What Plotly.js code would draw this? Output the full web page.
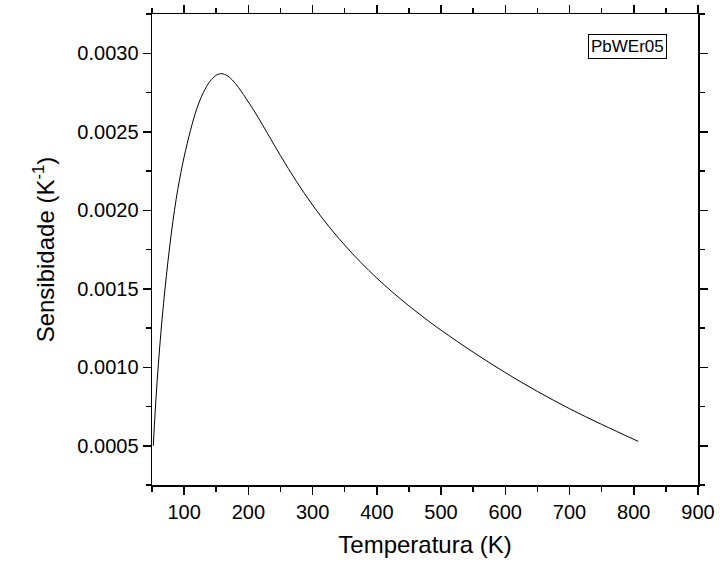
<!DOCTYPE html>
<html>
<head>
<meta charset="utf-8">
<script src="https://cdn.plot.ly/plotly-3.0.1.min.js"></script>
<style>html,body{margin:0;padding:0;background:#fff;}#chart{width:720px;height:569px;}</style>
</head>
<body>
<div id="chart"></div>
<script>
const temperature = [52, 55, 58, 62, 66, 70, 75, 80, 85, 90, 95, 100, 110, 120, 130, 140, 150, 157, 165, 175, 185, 200, 215, 230, 250, 275, 300, 325, 350, 375, 400, 425, 450, 475, 500, 550, 600, 650, 700, 750, 807];
const sensitivity = [0.00050, 0.00072, 0.00091, 0.00113, 0.00132, 0.00149, 0.00168, 0.00185, 0.00200, 0.00213, 0.00224, 0.00234, 0.00251, 0.00265, 0.00275, 0.00282, 0.00286, 0.00287, 0.002862, 0.00283, 0.00278, 0.00269, 0.002593, 0.002488, 0.002348, 0.002183, 0.002033, 0.001898, 0.001778, 0.001668, 0.001568, 0.001476, 0.001391, 0.001311, 0.001236, 0.001096, 0.000966, 0.000846, 0.000736, 0.000636, 0.000528];
const seriesName = 'PbWEr05';
const xTitle = 'Temperatura (K)';
const yTitle = 'Sensibidade (K<sup>-1</sup>)';

const font = 'Liberation Sans, Arial, sans-serif';
const trace = {
  x: temperature, y: sensitivity, mode: 'lines', type: 'scatter',
  line: {color: '#000', width: 1, shape: 'spline', smoothing: 1},
  showlegend: false
};
const axisCommon = {
  showline: true, linecolor: '#000', linewidth: 1.5, mirror: 'ticks',
  ticks: 'outside', ticklen: 8, tickwidth: 1.5, tickcolor: '#000',
  showgrid: false, zeroline: false,
  tickfont: {family: font, size: 20, color: '#000'}
};
const layout = {
  width: 720, height: 569,
  margin: {l: 152, r: 22, t: 14, b: 84},
  paper_bgcolor: '#fff', plot_bgcolor: '#fff',
  xaxis: Object.assign({}, axisCommon, {
    range: [50, 900], tick0: 0, dtick: 100,
    minor: {dtick: 50, ticks: 'outside', ticklen: 5, tickwidth: 1.5, tickcolor: '#000', showgrid: false},
    title: {text: xTitle, font: {family: font, size: 24, color: '#000'}, standoff: 14}
  }),
  yaxis: Object.assign({}, axisCommon, {
    range: [0.00025, 0.00325], tick0: 0, dtick: 0.0005, tickformat: '.4f',
    minor: {dtick: 0.00025, ticks: 'outside', ticklen: 5, tickwidth: 1.5, tickcolor: '#000', showgrid: false},
    title: {text: yTitle, font: {family: font, size: 24, color: '#000'}, standoff: 16}
  }),
  annotations: [{
    text: seriesName, xref: 'paper', yref: 'paper', x: 0.943, y: 0.931,
    xanchor: 'right', yanchor: 'middle', showarrow: false,
    font: {family: font, size: 17, color: '#000'},
    bordercolor: '#000', borderwidth: 1, borderpad: 2, bgcolor: '#fff'
  }]
};
Plotly.newPlot('chart', [trace], layout, {displayModeBar: false, staticPlot: true});
</script>
</body>
</html>
